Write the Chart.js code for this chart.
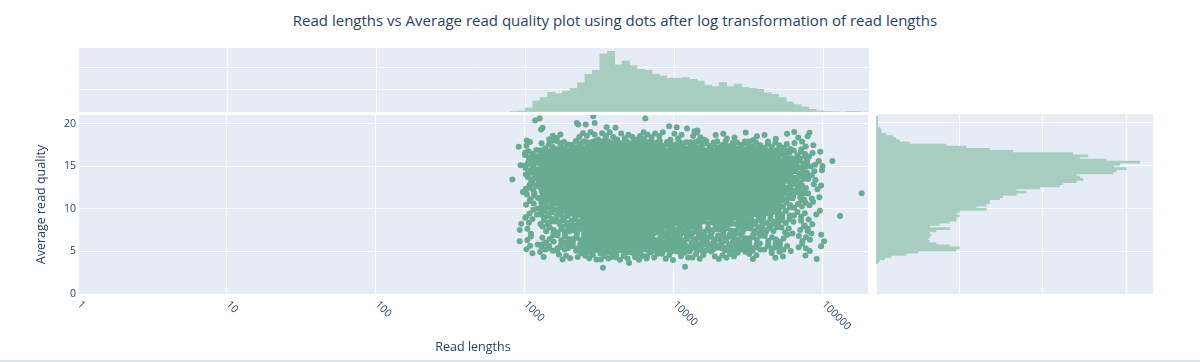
<!DOCTYPE html>
<html>
<head>
<meta charset="utf-8">
<script src="https://cdn.jsdelivr.net/npm/chart.js@4.4.0/dist/chart.umd.min.js"></script>
<style>
    html, body { margin: 0; padding: 0; background: #fff; }
    #page { position: relative; width: 1200px; height: 362px; overflow: hidden; font-family: "Open Sans", sans-serif; }
    #title { position: absolute; left: 0; top: 10px; width: 1230px; text-align: center; font-size: 15px; color: #2a3f5f; white-space: nowrap; }
    .box { position: absolute; }
    #bottomLine { position: absolute; left: 0; top: 360px; width: 1200px; height: 2px; background: #dbe4e4; }
</style>
</head>
<body>
<div id="page">
    <div id="title">Read lengths vs Average read quality plot using dots after log transformation of read lengths</div>
    <!-- 主圖的 canvas 上方與右方多留 3px，抵銷 Chart.js 為點半徑保留的邊距 -->
    <div class="box" style="left:0; top:111px;"><canvas id="mainChart" width="872" height="251"></canvas></div>
    <div class="box" style="left:78px; top:48px;"><canvas id="topChart" width="791" height="64"></canvas></div>
    <div class="box" style="left:876px; top:114px;"><canvas id="rightChart" width="277" height="180"></canvas></div>
    <div id="bottomLine"></div>
</div>
<script>
// 上方直方圖：read length 的 log10 分箱起點 (寬 0.05) 與數量
const lengthBinLog10 = [2.90, 2.95, 3.00, 3.05, 3.10, 3.15, 3.20, 3.25, 3.30, 3.35, 3.40, 3.45,
    3.50, 3.55, 3.60, 3.65, 3.70, 3.75, 3.80, 3.85, 3.90, 3.95, 4.00, 4.05,
    4.10, 4.15, 4.20, 4.25, 4.30, 4.35, 4.40, 4.45, 4.50, 4.55, 4.60, 4.65,
    4.70, 4.75, 4.80, 4.85, 4.90, 4.95, 5.00, 5.05, 5.10, 5.15, 5.20, 5.25];
const lengthBinCounts = [2, 5, 18, 50, 65, 89, 82, 94, 106, 132, 170, 188,
    261, 273, 212, 230, 209, 192, 188, 170, 162, 152, 152, 155,
    147, 139, 121, 114, 133, 114, 126, 111, 106, 102, 86, 79,
    65, 45, 33, 23, 12, 5, 1, 0, 0, 1, 1, 0];

// 右側直方圖：average read quality 分箱起點 (寬 0.25) 與數量
const qualityBins = [3.50, 3.75, 4.00, 4.25, 4.50, 4.75, 5.00, 5.25, 5.50, 5.75, 6.00, 6.25,
    6.50, 6.75, 7.00, 7.25, 7.50, 7.75, 8.00, 8.25, 8.50, 8.75, 9.00, 9.25,
    9.50, 9.75, 10.00, 10.25, 10.50, 10.75, 11.00, 11.25, 11.50, 11.75, 12.00, 12.25,
    12.50, 12.75, 13.00, 13.25, 13.50, 13.75, 14.00, 14.25, 14.50, 14.75, 15.00, 15.25,
    15.50, 15.75, 16.00, 16.25, 16.50, 16.75, 17.00, 17.25, 17.50, 17.75, 18.00, 18.25,
    18.50, 18.75, 19.00, 19.25, 19.50, 19.75, 20.00, 20.25, 20.50];
const qualityCounts = [1, 2, 5, 9, 18, 25, 48, 50, 44, 36, 32, 31,
    32, 33, 32, 36, 44, 32, 38, 44, 48, 48, 50, 48,
    50, 66, 60, 66, 68, 68, 74, 76, 84, 90, 84, 98,
    110, 112, 120, 124, 122, 120, 142, 144, 150, 142, 146, 158,
    138, 122, 127, 118, 82, 68, 54, 42, 20, 14, 12, 10,
    6, 3, 3, 2, 1, 1, 1, 1, 1];

// 散佈圖的密集區：以格子估計點數 (列 = quality 起點，寬 1；欄 = log10 長度起點，寬 0.1)
const cloudQualityRows = [3, 4, 5, 6, 7, 8, 9, 10, 11, 12, 13, 14, 15, 16, 17, 18];
const cloudLengthColsLog10 = [2.9, 3.0, 3.1, 3.2, 3.3, 3.4, 3.5, 3.6, 3.7, 3.8, 3.9,
    4.0, 4.1, 4.2, 4.3, 4.4, 4.5, 4.6, 4.7, 4.8, 4.9];
const cloudCounts = [
    [0, 0, 0, 0, 0, 0, 1, 0, 1, 0, 0, 1, 0, 0, 0, 0, 0, 0, 0, 0, 0],
    [0, 1, 2, 3, 3, 5, 8, 6, 6, 5, 4, 4, 4, 3, 4, 3, 3, 2, 2, 1, 1],
    [0, 3, 7, 8, 10, 16, 23, 19, 17, 16, 14, 13, 12, 10, 11, 10, 9, 7, 5, 3, 2],
    [1, 2, 5, 5, 7, 11, 17, 14, 12, 11, 10, 10, 9, 7, 8, 7, 6, 5, 3, 3, 2],
    [1, 2, 5, 6, 8, 13, 19, 15, 14, 13, 11, 11, 10, 8, 9, 8, 7, 6, 4, 3, 2],
    [1, 3, 7, 8, 10, 16, 23, 19, 17, 16, 14, 13, 12, 10, 11, 10, 9, 7, 5, 3, 2],
    [0, 4, 8, 9, 12, 19, 28, 23, 21, 19, 16, 16, 15, 12, 13, 12, 11, 9, 6, 4, 2],
    [0, 4, 10, 11, 15, 23, 34, 28, 26, 23, 20, 20, 18, 15, 16, 15, 13, 11, 7, 5, 2],
    [1, 5, 12, 14, 19, 28, 42, 35, 32, 28, 25, 24, 23, 19, 20, 19, 16, 13, 9, 6, 3],
    [0, 7, 15, 17, 24, 35, 53, 44, 40, 35, 31, 30, 28, 23, 24, 23, 21, 16, 11, 7, 3],
    [1, 8, 18, 21, 28, 43, 64, 53, 48, 43, 37, 37, 34, 28, 29, 28, 25, 20, 13, 8, 3],
    [0, 10, 22, 25, 34, 51, 76, 63, 57, 51, 45, 44, 41, 33, 35, 34, 30, 23, 16, 9, 3],
    [1, 9, 21, 24, 33, 49, 73, 61, 55, 49, 43, 42, 39, 32, 34, 32, 28, 23, 15, 9, 3],
    [0, 7, 15, 17, 23, 35, 52, 43, 39, 35, 30, 30, 28, 23, 24, 23, 20, 16, 11, 6, 3],
    [1, 2, 5, 6, 8, 11, 17, 14, 13, 11, 10, 10, 9, 8, 8, 8, 7, 5, 4, 3, 1],
    [0, 1, 2, 2, 2, 4, 5, 4, 4, 4, 3, 3, 3, 2, 2, 2, 2, 2, 1, 1, 1]
];

// 稀疏的離群點 (從圖上逐點讀取)
const sparseLengths = [1175, 1259, 1318, 1288, 2239, 2291, 2570, 2884, 2951, 3548, 4074,
    6457, 9333, 10471, 12303, 13804, 14454, 64565, 79433, 102500, 116400, 131200, 183200];
const sparseQualities = [20.35, 20.58, 19.49, 19.3, 20.07, 19.88, 19.88, 20.85, 20.07, 19.57, 19.49,
    20.58, 19.69, 19.57, 19.42, 19.1, 19.19, 19.02, 18.52, 6.2, 15.6, 9.14, 11.81];

const decadeTicks = [1, 10, 100, 1000, 10000, 100000];

const DOT = '#68ab92';
const HIST = '#a7cdc1';
const PLOT_BG = '#e5ecf6';
const TEXT = '#2a3f5f';

// 繪圖區背景
const plotBg = {
    id: 'plotBg',
    beforeDraw(chart) {
        const a = chart.chartArea;
        chart.ctx.save();
        chart.ctx.fillStyle = PLOT_BG;
        chart.ctx.fillRect(a.left, a.top, a.right - a.left, a.bottom - a.top);
        chart.ctx.restore();
    }
};

// x 軸標籤 45 度斜放 (文字往右下)
const slantedLabels = {
    id: 'slantedLabels',
    afterDraw(chart) {
        const xs = chart.scales.x;
        const ctx = chart.ctx;
        ctx.save();
        ctx.font = '10.5px "Open Sans"';
        ctx.fillStyle = TEXT;
        ctx.textAlign = 'left';
        ctx.textBaseline = 'middle';
        xs.ticks.forEach(t => {
            const px = xs.getPixelForValue(t.value);
            ctx.save();
            ctx.translate(px + 1, chart.chartArea.bottom + 9);
            ctx.rotate(Math.PI / 4);
            ctx.fillText(String(t.value), 0, 0);
            ctx.restore();
        });
        ctx.restore();
    }
};

const whiteGrid = { color: '#ffffff', lineWidth: 1, drawTicks: false, offset: false };
const noBorder = { display: false };

// 散佈點：格子內的點以固定的低差異序列擺放
const cloud = [];
let n = 0;
cloudQualityRows.forEach((q0, r) => {
    cloudLengthColsLog10.forEach((l0, c) => {
        for (let k = 0; k < cloudCounts[r][c]; k++) {
            n++;
            const u = (0.5 + n * 0.7548776662) % 1;
            const v = (0.5 + n * 0.5698402910) % 1;
            cloud.push({ x: Math.pow(10, l0 + u * 0.1), y: q0 + v });
        }
    });
});
sparseLengths.forEach((len, i) => cloud.push({ x: len, y: sparseQualities[i] }));

const common = {
    responsive: false,
    animation: false,
    events: [],
    plugins: { legend: { display: false }, tooltip: { enabled: false } },
    layout: { padding: 0 }
};

new Chart(document.getElementById('mainChart'), {
    type: 'scatter',
    data: {
        datasets: [{
            data: cloud,
            pointRadius: 3,
            pointBackgroundColor: DOT,
            pointBorderWidth: 0
        }]
    },
    options: {
        ...common,
        scales: {
            x: {
                type: 'logarithmic',
                min: 1,
                max: 202000,
                afterBuildTicks: s => { s.ticks = decadeTicks.map(v => ({ value: v })); },
                afterFit: s => { s.height = 68; s.paddingLeft = 0; s.paddingRight = 0; },
                ticks: { display: false },
                grid: whiteGrid,
                border: noBorder,
                title: {
                    display: true,
                    text: 'Read lengths',
                    color: TEXT,
                    font: { family: 'Open Sans', size: 12.5 },
                    padding: { top: 0, bottom: 7 }
                }
            },
            y: {
                min: 0,
                max: 21,
                ticks: {
                    stepSize: 5,
                    includeBounds: false,
                    padding: 2,
                    color: TEXT,
                    font: { family: 'Open Sans', size: 10.5 }
                },
                afterFit: s => { s.width = 78; s.paddingTop = 0; s.paddingBottom = 0; },
                grid: whiteGrid,
                border: noBorder,
                title: {
                    display: true,
                    text: 'Average read quality',
                    color: TEXT,
                    font: { family: 'Open Sans', size: 12.5 },
                    padding: { top: 34, bottom: 0 }
                }
            }
        }
    },
    plugins: [plotBg, slantedLabels]
});

new Chart(document.getElementById('topChart'), {
    type: 'bar',
    data: {
        datasets: [{
            data: lengthBinLog10.map((b, i) => ({ x: Math.pow(10, b + 0.025), y: lengthBinCounts[i] })),
            backgroundColor: HIST,
            borderWidth: 0,
            barPercentage: 1,
            categoryPercentage: 1
        }]
    },
    options: {
        ...common,
        scales: {
            x: {
                type: 'logarithmic',
                min: 1,
                max: 202000,
                offset: false,
                afterBuildTicks: s => { s.ticks = decadeTicks.map(v => ({ value: v })); },
                afterFit: s => { s.height = 0; s.paddingLeft = 0; s.paddingRight = 0; },
                ticks: { display: false },
                grid: whiteGrid,
                border: noBorder
            },
            y: {
                min: 0,
                max: 288,
                ticks: { display: false, stepSize: 100, includeBounds: false },
                afterFit: s => { s.width = 0; s.paddingTop = 0; s.paddingBottom = 0; },
                grid: whiteGrid,
                border: noBorder
            }
        }
    },
    plugins: [plotBg]
});

new Chart(document.getElementById('rightChart'), {
    type: 'bar',
    data: {
        datasets: [{
            data: qualityBins.map((b, i) => ({ x: qualityCounts[i], y: b + 0.125 })),
            backgroundColor: HIST,
            borderWidth: 0,
            barPercentage: 1,
            categoryPercentage: 1
        }]
    },
    options: {
        ...common,
        indexAxis: 'y',
        scales: {
            x: {
                type: 'linear',
                min: 0,
                max: 166,
                ticks: { display: false, stepSize: 50, includeBounds: false },
                afterFit: s => { s.height = 0; s.paddingLeft = 0; s.paddingRight = 0; },
                grid: whiteGrid,
                border: noBorder
            },
            y: {
                type: 'linear',
                min: 0,
                max: 21,
                offset: false,
                ticks: { display: false, stepSize: 5, includeBounds: false },
                afterFit: s => { s.width = 0; s.paddingTop = 0; s.paddingBottom = 0; },
                grid: whiteGrid,
                border: noBorder
            }
        }
    },
    plugins: [plotBg]
});
</script>
</body>
</html>
